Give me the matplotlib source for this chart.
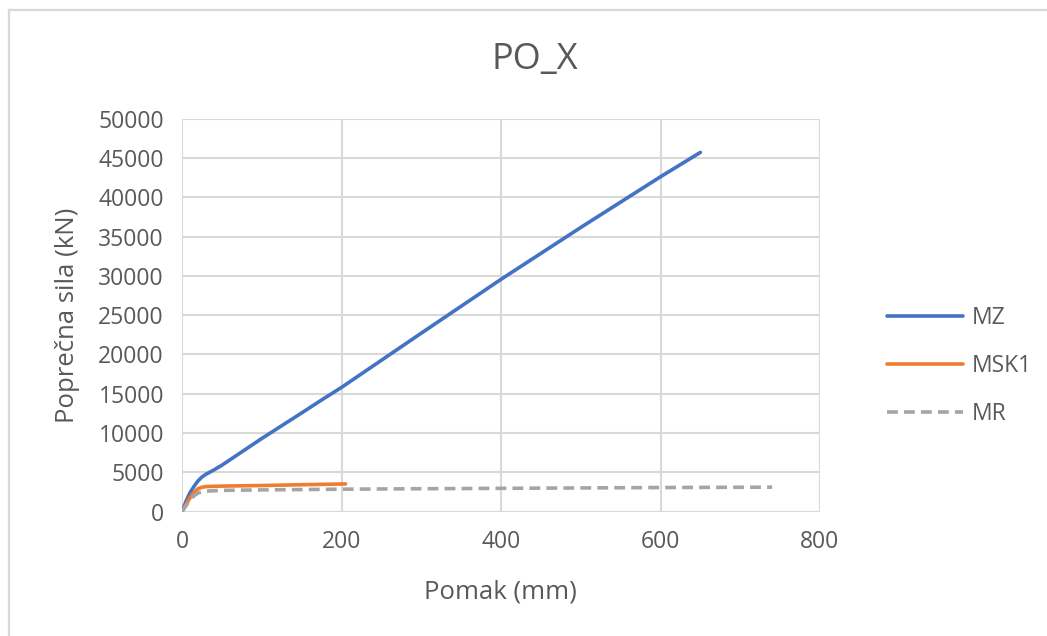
import matplotlib
matplotlib.use("Agg")
import matplotlib.pyplot as plt
from matplotlib.lines import Line2D

plt.rcParams['font.family'] = ['Open Sans', 'DejaVu Sans']

# pomak (mm) / poprecna sila (kN)
mz_x = [0, 5, 10, 15, 20, 25, 30, 40, 50, 75, 100, 150, 175, 200, 300, 400, 500, 600, 650]
mz_y = [0, 1300, 2400, 3200, 3900, 4400, 4750, 5300, 5900, 7600, 9300, 12550, 14200, 15800,
        22700, 29550, 36150, 42600, 45700]

msk1_x = [0, 5, 10, 15, 20, 25, 30, 40, 60, 100, 150, 205]
msk1_y = [0, 900, 1750, 2450, 2900, 3100, 3180, 3220, 3260, 3320, 3420, 3520]

mr_x = [0, 5, 10, 15, 20, 25, 30, 50, 100, 200, 300, 400, 500, 600, 740]
mr_y = [0, 750, 1450, 2000, 2350, 2520, 2600, 2700, 2760, 2850, 2910, 2960, 3010, 3060, 3110]

x_ticks = [0, 200, 400, 600, 800]
y_ticks = list(range(0, 50001, 5000))

W, H = 1047, 636
txt = '#595959'
grid_c = '#D9D9D9'

fig = plt.figure(figsize=(W / 100, H / 100), dpi=100)
ax = fig.add_axes([182 / W, 1 - 511.6 / H, 638 / W, 393 / H])

ax.plot(mz_x, mz_y, color='#4472C4', lw=2.6, label='MZ', solid_capstyle='round')
ax.plot(msk1_x, msk1_y, color='#ED7D31', lw=2.6, label='MSK1', solid_capstyle='round')
ax.plot(mr_x, mr_y, color='#A5A5A5', lw=2.6, dashes=(3, 1.7), label='MR')

ax.set_xlim(0, 800)
ax.set_ylim(0, 50000)
ax.set_xticks(x_ticks)
ax.set_yticks(y_ticks)
ax.tick_params(length=0, labelsize=16.5, colors=txt, pad=13)
ax.grid(True, color=grid_c, lw=1.5)
ax.set_axisbelow(True)
for s in ax.spines.values():
    s.set_visible(False)
ax.axhline(0, color=grid_c, lw=1.5, zorder=0.5)

fig.text(535 / W, 1 - 60 / H, 'PO_X', ha='center', va='center', fontsize=26, color=txt)
fig.text(500 / W, 1 - 592 / H, 'Pomak (mm)', ha='center', va='center', fontsize=18.5, color=txt)
fig.text(67 / W, 1 - 315 / H, 'Poprečna sila (kN)', ha='center', va='center',
         rotation=90, fontsize=18.5, color=txt)

fig.legend(loc='center left', bbox_to_anchor=(887 / W, 1 - 366 / H), frameon=False,
           fontsize=16.5, labelcolor=txt, handlelength=3.3, handletextpad=0.4,
           labelspacing=1.05, borderpad=0, borderaxespad=0)

# okvir grafikona
fig.add_artist(Line2D([9 / W, 9 / W], [0, 1 - 10 / H], color=grid_c, lw=1.6))
fig.add_artist(Line2D([9 / W, 1], [1 - 10 / H, 1 - 10 / H], color=grid_c, lw=1.6))

fig.savefig('out.png', dpi=100)
